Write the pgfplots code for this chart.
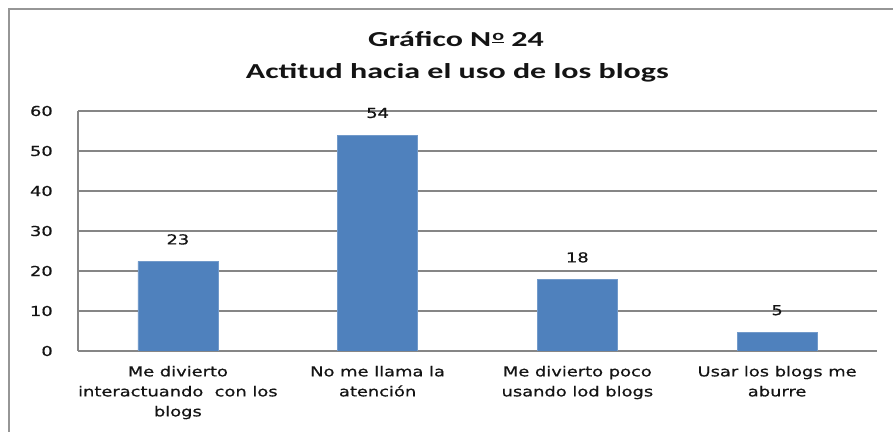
\documentclass[border=0pt]{standalone}
\usepackage{pgfplots}
\pgfplotsset{compat=1.18}
\usepackage{pgfplotstable}
\usepackage{fontspec}
\setmainfont{DejaVu Sans}[FakeStretch=1.3, FakeBold=0.6]
\newfontfamily\titlefont{Carlito}[FakeStretch=1.5]
\definecolor{barblue}{HTML}{4F81BD}
\definecolor{gridgray}{RGB}{134,134,134}
\definecolor{framegray}{RGB}{150,150,150}
\definecolor{txt}{RGB}{20,20,20}
\pgfplotstableread{
x y lab
0 22.4 23
1 54 54
2 17.9 18
3 4.7 5
}\datatable
\newcommand{\numero}{N\kern0.05em\raisebox{0.3em}{\fontsize{11}{11}\selectfont\underline{o}}}
\begin{document}
\begin{tikzpicture}
\path[use as bounding box] (0,0) rectangle (669.75pt,324pt);
\clip (0,0) rectangle (669.75pt,324pt);
\draw[framegray, line width=1.5pt] (6.75pt,-20pt) -- (6.75pt,317.25pt) -- (700pt,317.25pt);
\node[anchor=base, txt, font=\titlefont\bfseries\fontsize{16}{19}\selectfont] at (342pt,288.75pt) {Gráfico \numero{} 24};
\node[anchor=base, txt, font=\titlefont\bfseries\fontsize{16}{19}\selectfont] at (343pt,264.75pt) {Actitud hacia el uso de los blogs};
\begin{axis}[
  at={(58.5pt,60.75pt)}, anchor=south west,
  scale only axis, width=599.25pt, height=180pt,
  xmin=-0.5, xmax=3.5, ymin=0, ymax=60,
  axis lines*=left,
  axis line style={gridgray, line width=0.9pt},
  ytick={0,10,...,60},
  xtick={0,1,2,3},
  xticklabels={{Me divierto\\interactuando\ \ con los\\blogs},{No me llama la\\atención},{Me divierto poco\\usando lod blogs},{Usar los blogs me\\aburre}},
  major tick length=0pt,
  ymajorgrids, grid style={gridgray, line width=0.9pt},
  /pgf/number format/assume math mode=true,
  tick label style={txt, font=\fontsize{10.3}{15}\selectfont},
  yticklabel style={anchor=east, inner sep=0pt, xshift=-18.75pt},
  xticklabel style={anchor=north, inner sep=0pt, yshift=-11pt, align=center},
  ybar, bar width=60pt,
  point meta=explicit symbolic,
  nodes near coords,
  every node near coord/.append style={txt, font=\fontsize{10.3}{15}\selectfont, anchor=center, yshift=16.5pt, inner sep=0pt},
]
\addplot[fill=barblue, draw=barblue!80!white, line width=0.5pt] table[x=x, y=y, meta=lab] {\datatable};
\end{axis}
\end{tikzpicture}
\end{document}
